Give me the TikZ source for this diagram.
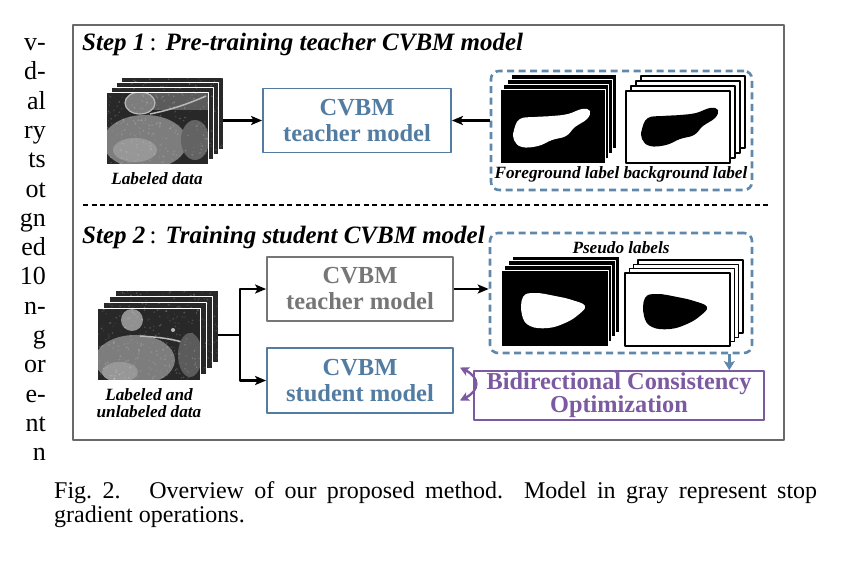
\documentclass[tikz,border=0pt]{standalone}
\usepackage{fontspec}
\setmainfont{Liberation Serif}
\usetikzlibrary{arrows.meta}
\definecolor{blueC}{RGB}{82,124,162}
\definecolor{dashC}{RGB}{96,136,170}
\definecolor{grayC}{RGB}{118,118,118}
\definecolor{purpC}{RGB}{124,90,162}
\definecolor{frameC}{RGB}{105,105,105}
\definecolor{ctD}{RGB}{40,40,40}
\definecolor{ctM}{RGB}{125,125,125}
\definecolor{ctL}{RGB}{185,185,185}
\tikzset{
  arr/.style={line width=2.4pt, -{Stealth[length=11pt,width=9pt,inset=2.5pt]}},
  barr/.style={line width=2.4pt, dashC, -{Stealth[length=9pt,width=11pt,inset=2pt]}},
  parr/.style={line width=2.4pt, purpC, {Stealth[length=9pt,width=9pt,inset=2pt]}-{Stealth[length=9pt,width=9pt,inset=2pt]}},
  modelbox/.style={draw, line width=1.8pt, align=center, inner sep=0pt,
    font=\fontsize{24.5}{26}\selectfont\bfseries},
  dgroup/.style={draw=dashC, line width=2.6pt, dash pattern=on 7pt off 4.5pt,
    rounded corners=8pt, inner sep=0pt},
  lbl/.style={inner sep=0pt, anchor=base, font=\fontsize{17.2}{20}\selectfont\bfseries\itshape},
  hdr/.style={inner sep=0pt, anchor=base west, font=\fontsize{25}{28}\selectfont\bfseries\itshape},
  ghost/.style={inner sep=0pt, draw=none},
  blobA/.pic={\fill[pic actions] plot[smooth cycle, tension=0.7] coordinates {(14,41) (20,30) (35,28) (52,27) (68,25) (82,20) (90,22) (87,30) (75,38) (66,47) (52,51) (38,57) (22,58) (14,51)};},
  blobB/.pic={\fill[pic actions] plot[smooth cycle, tension=0.7] coordinates {(22,27) (34,23) (54,26) (71,30) (84,36) (77,45) (64,53) (47,58) (29,56) (21,45)};},
  grain/.pic={\foreach \n in {1,...,260}{\pgfmathsetmacro{\gx}{rnd*104}\pgfmathsetmacro{\gy}{rnd*74}\pgfmathsetmacro{\gg}{int(rnd*60)}
      \fill[white, opacity=0.03+\gg/300] (\gx,\gy) circle [radius=0.9];}}
}
\begin{document}
\begin{tikzpicture}[x=1pt, y=-1pt, line join=round]
\pgfmathsetseed{7}
\useasboundingbox (0,0) rectangle (860,562);
\fill[white] (0,0) rectangle (860,562);

% left column fragments
\foreach \t [count=\k from 0] in {v-,d-,al,ry,ts,ot,gn,ed,10,n-,g,or,e-,nt,n}
  \node[anchor=base east, inner sep=0pt, font=\fontsize{26}{29}\selectfont] (lc\k) at (46,50.5+29.3*\k) {\t};

% frame
\node[draw=frameC, line width=2.5pt, minimum width=711pt, minimum height=415pt, inner sep=0pt] (frame) at (428.5,232.5) {};
\coordinate (sepL) at (83,205);
\coordinate (sepR) at (770,205);
\draw[line width=1.2pt, dash pattern=on 5pt off 3.5pt] (sepL) -- (sepR);

% headers
\node[hdr] (h1) at (82,50.5) {Step 1{\normalfont\,:}\hspace{9pt}Pre-training teacher CVBM model};
\node[hdr] (h2) at (82,243) {Step 2{\normalfont\,:}\hspace{9pt}Training student CVBM model};

% ---------- Step 1 ----------
\foreach \i in {3,2,1}{
  \filldraw[fill=ctD, draw=white, line width=0.8pt] (106+5*\i,92-5*\i) rectangle ++(102,72);
  \begin{scope}
    \clip (106+5*\i,92-5*\i) rectangle ++(102,72);
    \pic at (106+5*\i,92-5*\i) {grain};
  \end{scope}}
\begin{scope}
  \clip (106,92) rectangle ++(102,72);
  \fill[ctD] (106,92) rectangle ++(102,72);
  \fill[ctM!60!ctD] (150,92) rectangle (208,110);
  \fill[ctM] (145,142) ellipse [x radius=42, y radius=27];
  \fill[ctM!80!white] (135,150) ellipse [x radius=22, y radius=12];
  \fill[ctM] (140,103) ellipse [x radius=15, y radius=11];
  \draw[ctL, line width=1.2pt] (140,103) ellipse [x radius=15, y radius=11];
  \draw[ctL, line width=1.5pt] (150,114) .. controls (170,110) and (188,104) .. (206,96);
  \fill[ctM!70!ctD] (195,140) ellipse [x radius=14, y radius=20];
  \pic at (106,92) {grain};
\end{scope}
\draw[white, line width=0.8pt] (106,92) rectangle ++(102,72);
\node[ghost, minimum width=117pt, minimum height=87pt] (img1) at (164.5,120.5) {};
\node[lbl] (lab1) at (157,184) {Labeled data};

\node[modelbox, draw=blueC, text=blueC, minimum width=188pt, minimum height=64pt] (t1) at (357,120.5) {CVBM\\teacher model};

% label group 1
\node[dgroup, minimum width=261pt, minimum height=119pt] (g1) at (621.5,130.5) {};
\foreach \i in {3,2,1,0}
  \filldraw[fill=black, draw=white, line width=0.8pt] (500+3.7*\i,89-5*\i) rectangle ++(105,74);
\pic[white] at (500,89) {blobA};
\foreach \i in {3,2,1,0}
  \filldraw[fill=white, draw=black, line width=1.3pt] (626+5*\i,91-5*\i) rectangle ++(104,72);
\pic[black] at (628,88) {blobA};
\node[lbl] (lab2) at (621,178) {Foreground label background label};

\draw[arr] (t1.west -| img1.east) -- (t1.west);
\draw[arr] (t1.east -| g1.west) -- (t1.east);

% ---------- Step 2 ----------
\foreach \i in {3,2,1}{
  \filldraw[fill=ctD, draw=white, line width=0.8pt] (97+6*\i,308-6*\i) rectangle ++(103,72);
  \begin{scope}
    \clip (97+6*\i,308-6*\i) rectangle ++(103,72);
    \pic at (97+6*\i,308-6*\i) {grain};
  \end{scope}}
\begin{scope}
  \clip (97,308) rectangle ++(103,72);
  \fill[ctD] (97,308) rectangle ++(103,72);
  \fill[ctM] (135,360) ellipse [x radius=40, y radius=25];
  \fill[ctM!80!white] (120,372) ellipse [x radius=18, y radius=10];
  \fill[ctM!85!white] (132,320) circle [radius=11];
  \draw[ctL, line width=1.5pt] (140,336) .. controls (155,337) and (168,338) .. (182,342);
  \fill[ctL] (173,330) circle [radius=2];
  \fill[ctM!60!ctD] (190,355) ellipse [x radius=12, y radius=22];
  \pic at (97,308) {grain};
\end{scope}
\draw[white, line width=0.8pt] (97,308) rectangle ++(103,72);
\node[ghost, minimum width=121pt, minimum height=90pt] (img2) at (157.5,335) {};
\node[lbl] (lab3a) at (149,400) {Labeled and};
\node[lbl] (lab3b) at (149,417) {unlabeled data};

\node[modelbox, draw=grayC, text=grayC, minimum width=186pt, minimum height=64pt] (t2) at (360,289) {CVBM\\teacher model};
\node[modelbox, draw=blueC, text=blueC, minimum width=186pt, minimum height=65pt] (s2) at (360,380.5) {CVBM\\student model};

% label group 2
\node[dgroup, minimum width=262pt, minimum height=120pt] (g2) at (621,293) {};
\node[lbl] (lab4) at (621,253) {Pseudo labels};
\foreach \i in {3,2,1,0}
  \filldraw[fill=black, draw=white, line width=0.8pt] (501+3.7*\i,270-4.7*\i) rectangle ++(107,76);
\pic[white] at (501,270) {blobB};
\foreach \i in {3,2,1,0}
  \filldraw[fill=white, draw=black, line width=1.3pt] (625+4.3*\i,273-4.3*\i) rectangle ++(105,73);
\pic[black] at (623,271) {blobB};

\node[modelbox, draw=purpC, text=purpC, minimum width=290pt, minimum height=49pt,
  font=\fontsize{24.3}{19}\selectfont\bfseries] (bco) at (619,395.5) {Bidirectional Consistency\\Optimization};

% connectors step 2
\coordinate (jn) at ([xshift=22pt]img2.east);
\draw[line width=2.4pt] (img2.east) -- (jn);
\draw[arr] (jn) |- (t2.west);
\draw[arr] (jn) |- (s2.west);
\draw[arr] (t2.east) -- (t2.east -| g2.west);
\coordinate (bt) at ([xshift=-24pt]g2.south east);
\draw[barr] (bt) -- (bt |- bco.north);
\coordinate (ca) at ([xshift=6pt,yshift=13pt]s2.east);
\coordinate (cb) at ([xshift=6pt,yshift=-20pt]s2.east);
\draw[parr] (ca) .. controls ([xshift=20pt,yshift=-10pt]ca) and ([xshift=20pt,yshift=10pt]cb) .. (cb);

% caption
\node[anchor=base west, inner sep=0pt, font=\fontsize{24}{24}\selectfont] (cap1) at (54,498)
  {\makebox[763pt][s]{Fig.~2.\hspace{8pt} Overview of our proposed method. Model in gray represent stop}};
\node[anchor=base west, inner sep=0pt, font=\fontsize{24}{24}\selectfont] (cap2) at (54,522.5) {gradient operations.};
\end{tikzpicture}
\end{document}
